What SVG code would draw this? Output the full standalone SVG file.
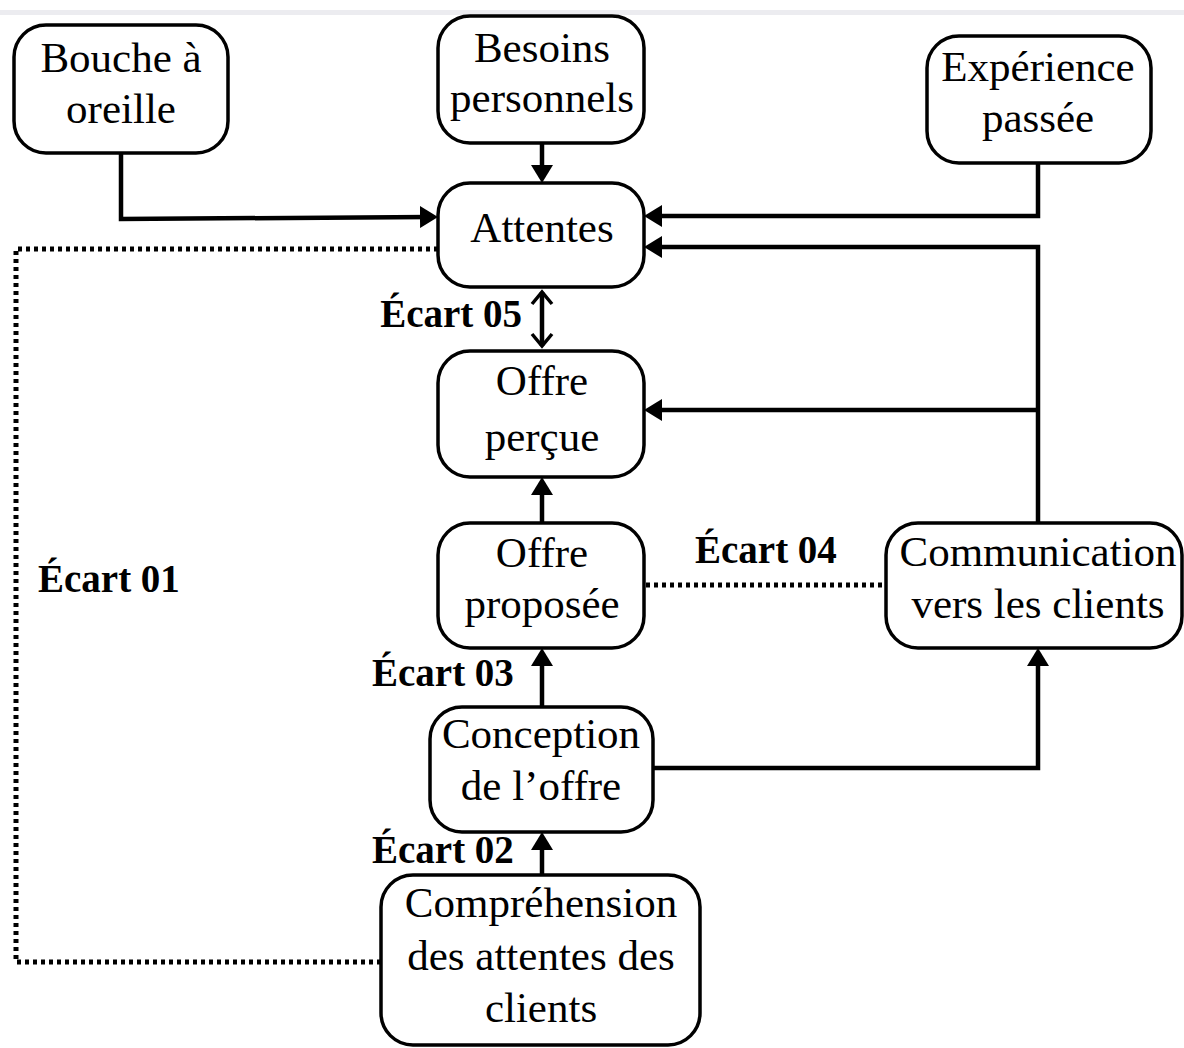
<svg xmlns="http://www.w3.org/2000/svg" width="1184" height="1048" viewBox="0 0 1184 1048">
<style>
.box{fill:#fff;stroke:#000;stroke-width:3.5}
.t{font-family:"Liberation Serif","Times New Roman",serif;font-size:43px;fill:#000;text-anchor:middle}
.b{font-family:"Liberation Serif","Times New Roman",serif;font-size:39px;font-weight:bold;fill:#000}
.c{fill:none;stroke:#000;stroke-width:4.5}
.d{fill:none;stroke:#000;stroke-width:5;stroke-dasharray:4 4}
</style>
<defs>
<marker id="ah" markerUnits="userSpaceOnUse" markerWidth="18" markerHeight="22" refX="9" refY="11" orient="auto" viewBox="0 0 18 22">
<path d="M0,0 L18,11 L0,22 z" fill="#000"/>
</marker>
<marker id="open" markerUnits="userSpaceOnUse" markerWidth="18" markerHeight="24" refX="14" refY="12" orient="auto-start-reverse" viewBox="0 0 18 24">
<path d="M2,2 L14,12 L2,22" fill="none" stroke="#000" stroke-width="3.5"/>
</marker>
</defs>
<rect x="0" y="0" width="1184" height="1048" fill="#fff"/>
<rect x="0" y="10" width="1184" height="5" fill="#ececf0"/>
<g id="connectors">
<polyline class="c" points="121,153 121,219 429,217" marker-end="url(#ah)"/>
<line class="c" x1="542" y1="143" x2="542" y2="174" marker-end="url(#ah)"/>
<polyline class="c" points="1038,163 1038,216 653,216" marker-end="url(#ah)"/>
<polyline class="c" points="1038,523 1038,247 653,247" marker-end="url(#ah)"/>
<line class="c" x1="1038" y1="410" x2="653" y2="410" marker-end="url(#ah)"/>
<line class="c" x1="542" y1="292" x2="542" y2="346" marker-start="url(#open)" marker-end="url(#open)"/>
<line class="c" x1="542" y1="523" x2="542" y2="486" marker-end="url(#ah)"/>
<line class="c" x1="542" y1="707" x2="542" y2="657" marker-end="url(#ah)"/>
<line class="c" x1="542" y1="875" x2="542" y2="841" marker-end="url(#ah)"/>
<polyline class="c" points="653,768 1038,768 1038,657" marker-end="url(#ah)"/>
<line class="d" x1="646" y1="585" x2="886" y2="585"/>
<polyline class="d" points="438,249 16,249 16,962 381,962"/>
</g>
<g id="bouche"><rect class="box" x="14" y="25" width="214" height="128" rx="32"/><text class="t" x="121" y="72">Bouche à</text><text class="t" x="121" y="123">oreille</text></g>
<g id="besoins"><rect class="box" x="438" y="16" width="206" height="127" rx="32"/><text class="t" x="542" y="62">Besoins</text><text class="t" x="542" y="112">personnels</text></g>
<g id="experience"><rect class="box" x="927" y="36" width="224" height="127" rx="32"/><text class="t" x="1038" y="81">Expérience</text><text class="t" x="1038" y="132">passée</text></g>
<g id="attentes"><rect class="box" x="438" y="183" width="206" height="104" rx="32"/><text class="t" x="542" y="242">Attentes</text></g>
<g id="offre-percue"><rect class="box" x="438" y="351" width="206" height="126" rx="32"/><text class="t" x="542" y="395">Offre</text><text class="t" x="542" y="451">perçue</text></g>
<g id="offre-proposee"><rect class="box" x="438" y="523" width="206" height="125" rx="32"/><text class="t" x="542" y="567">Offre</text><text class="t" x="542" y="618">proposée</text></g>
<g id="communication"><rect class="box" x="886" y="523" width="296" height="125" rx="32"/><text class="t" x="1038" y="566">Communication</text><text class="t" x="1038" y="618">vers les clients</text></g>
<g id="conception"><rect class="box" x="430" y="707" width="223" height="125" rx="32"/><text class="t" x="541" y="748">Conception</text><text class="t" x="541" y="800">de l’offre</text></g>
<g id="comprehension"><rect class="box" x="381" y="875" width="319" height="170" rx="32"/><text class="t" x="541" y="917">Compréhension</text><text class="t" x="541" y="970">des attentes des</text><text class="t" x="541" y="1022">clients</text></g>
<g id="labels">
<text class="b" x="522" y="327" text-anchor="end">Écart 05</text>
<text class="b" x="695" y="563">Écart 04</text>
<text class="b" x="38" y="592">Écart 01</text>
<text class="b" x="372" y="686">Écart 03</text>
<text class="b" x="372" y="863">Écart 02</text>
</g>
</svg>
